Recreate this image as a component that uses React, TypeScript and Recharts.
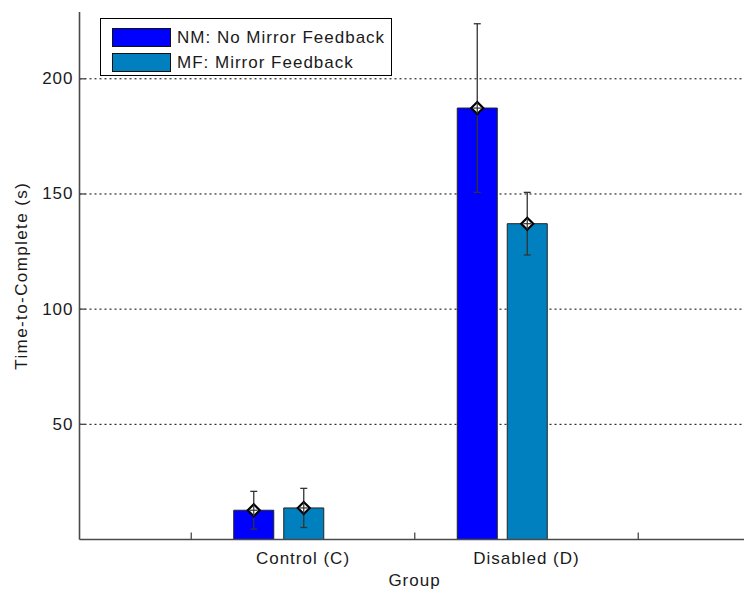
import { ComposedChart, Bar, XAxis, YAxis, CartesianGrid, ErrorBar, LabelList, Legend, Label } from 'recharts';

// Group means and standard errors (seconds)
const groups = ['Control (C)', 'Disabled (D)'];
const nmMeans = [12.7, 187.3];
const nmErrs = [8.2, 36.6];
const mfMeans = [13.7, 137.1];
const mfErrs = [8.5, 13.6];

const seriesNames = ['NM: No Mirror Feedback', 'MF: Mirror Feedback'];
const yTicks = [50, 100, 150, 200];
const xTickPos = [0.5, 1, 1.5, 2, 2.5];
const xTickLabels = ['', 'Control (C)', '', 'Disabled (D)', ''];

const NM_COLOR = '#0000ff';
const MF_COLOR = '#0080bf';
const FONT = "'Liberation Sans', Arial, Helvetica, sans-serif";
const AXIS = '#4a4a4a';

const data = groups.map((g, i) => ({
  group: g,
  pos: i + 1,
  nm: nmMeans[i],
  nmErr: nmErrs[i],
  mf: mfMeans[i],
  mfErr: mfErrs[i],
}));

const textStyle = { fontFamily: FONT, fontSize: 17, letterSpacing: 1, fill: '#1a1a1a' };

function YTick({ x, y, payload }: any) {
  return (
    <g>
      <line x1={x} x2={x + 6} y1={y} y2={y} stroke={AXIS} strokeWidth={1.3} />
      <text x={x - 6} y={y} textAnchor="end" dominantBaseline="central" style={textStyle}>
        {payload.value}
      </text>
    </g>
  );
}

function XTick({ x, y, index }: any) {
  const text = xTickLabels[index] ?? '';
  return (
    <g>
      {/* ticks under the bars stay hidden */}
      {text === '' && <line x1={x} x2={x} y1={y} y2={y - 7} stroke={AXIS} strokeWidth={1.3} />}
      {text !== '' && (
        <text x={x} y={y + 24} textAnchor="middle" style={textStyle}>
          {text}
        </text>
      )}
    </g>
  );
}

// diamond marker with a cross, sitting on the bar top
function Diamond(props: any) {
  const { x, y, width } = props;
  const cx = x + width / 2;
  const cy = y;
  const r = 6;
  return (
    <g>
      <polygon
        points={`${cx},${cy - r} ${cx + r},${cy} ${cx},${cy + r} ${cx - r},${cy}`}
        fill="#fff"
        stroke="#000"
        strokeWidth={2.2}
      />
      <line x1={cx} x2={cx} y1={cy - r} y2={cy + r} stroke="#333" strokeWidth={1.2} />
      <line x1={cx - r + 2} x2={cx + r - 2} y1={cy} y2={cy} stroke="#333" strokeWidth={1.2} />
    </g>
  );
}

function LegendBox({ payload }: any) {
  const items = [...(payload || [])].sort(
    (a: any, b: any) => seriesNames.indexOf(a.value) - seriesNames.indexOf(b.value),
  );
  return (
    <div
      style={{
        width: 290,
        height: 50,
        border: '1px solid #000',
        background: '#fff',
        paddingTop: 6,
        boxSizing: 'content-box',
      }}
    >
      {items.map((p: any) => (
        <div key={p.value} style={{ display: 'flex', alignItems: 'center', height: 25, marginLeft: 11 }}>
          <div style={{ flexShrink: 0, width: 57, height: 17, background: p.color, border: '1px solid #111' }} />
          <span
            style={{
              flexShrink: 0,
              whiteSpace: 'nowrap',
              marginLeft: 6,
              fontFamily: FONT,
              fontSize: 17,
              letterSpacing: 1,
              color: '#1a1a1a',
            }}
          >
            {p.value}
          </span>
        </div>
      ))}
    </div>
  );
}

export default function App() {
  return (
    <div style={{ position: 'absolute', left: 0, top: 0, width: 744, height: 593, overflow: 'hidden', background: '#fff' }}>
      <ComposedChart
        width={750}
        height={593}
        data={data}
        margin={{ top: 12, right: 0, bottom: 0, left: 0 }}
        barSize={40}
        barGap={10}
      >
        <CartesianGrid
          xAxisId="num"
          vertical={false}
          syncWithTicks
          stroke="#000"
          strokeDasharray="2 3"
          strokeWidth={1}
        />
        <XAxis
          xAxisId="cat"
          dataKey="group"
          type="category"
          hide
          height={0}
          padding={{ left: 87.25, right: 136.25 }}
        />
        <XAxis
          xAxisId="num"
          dataKey="pos"
          type="number"
          domain={[0, 3]}
          ticks={xTickPos}
          allowDataOverflow
          height={53.5}
          tickSize={0}
          tickMargin={0}
          tickLine={false}
          axisLine={{ stroke: AXIS, strokeWidth: 1.6 }}
          tick={<XTick />}
          interval={0}
        >
          <Label
            content={({ viewBox }: any) => (
              <text x={414.5} y={viewBox.y + 46} textAnchor="middle" style={textStyle}>
                Group
              </text>
            )}
          />
        </XAxis>
        <YAxis
          type="number"
          domain={[0, 229]}
          ticks={yTicks}
          width={79.5}
          allowDataOverflow
          tickSize={0}
          tickMargin={0}
          tickLine={false}
          axisLine={{ stroke: AXIS, strokeWidth: 1.6 }}
          tick={<YTick />}
        >
          <Label
            content={({ viewBox }: any) => {
              const cx = viewBox.x + 21.5;
              const cy = viewBox.y + viewBox.height / 2;
              return (
                <text
                  x={cx}
                  y={cy}
                  transform={`rotate(-90 ${cx} ${cy})`}
                  textAnchor="middle"
                  dominantBaseline="central"
                  style={{ ...textStyle, letterSpacing: 1.4 }}
                >
                  Time-to-Complete (s)
                </text>
              );
            }}
          />
        </YAxis>
        <Legend
          layout="vertical"
          align="center"
          verticalAlign="middle"
          wrapperStyle={{ top: 18, left: 100, width: 292, height: 58 }}
          content={<LegendBox />}
        />
        <Bar
          xAxisId="cat"
          dataKey="nm"
          name={seriesNames[0]}
          fill={NM_COLOR}
          stroke="#222"
          strokeWidth={1}
          isAnimationActive={false}
        >
          <ErrorBar dataKey="nmErr" width={3.5} stroke="#333" strokeWidth={1.3} direction="y" />
          <LabelList dataKey="nm" content={<Diamond />} />
        </Bar>
        <Bar
          xAxisId="cat"
          dataKey="mf"
          name={seriesNames[1]}
          fill={MF_COLOR}
          stroke="#222"
          strokeWidth={1}
          isAnimationActive={false}
        >
          <ErrorBar dataKey="mfErr" width={3.5} stroke="#333" strokeWidth={1.3} direction="y" />
          <LabelList dataKey="mf" content={<Diamond />} />
        </Bar>
      </ComposedChart>
    </div>
  );
}
